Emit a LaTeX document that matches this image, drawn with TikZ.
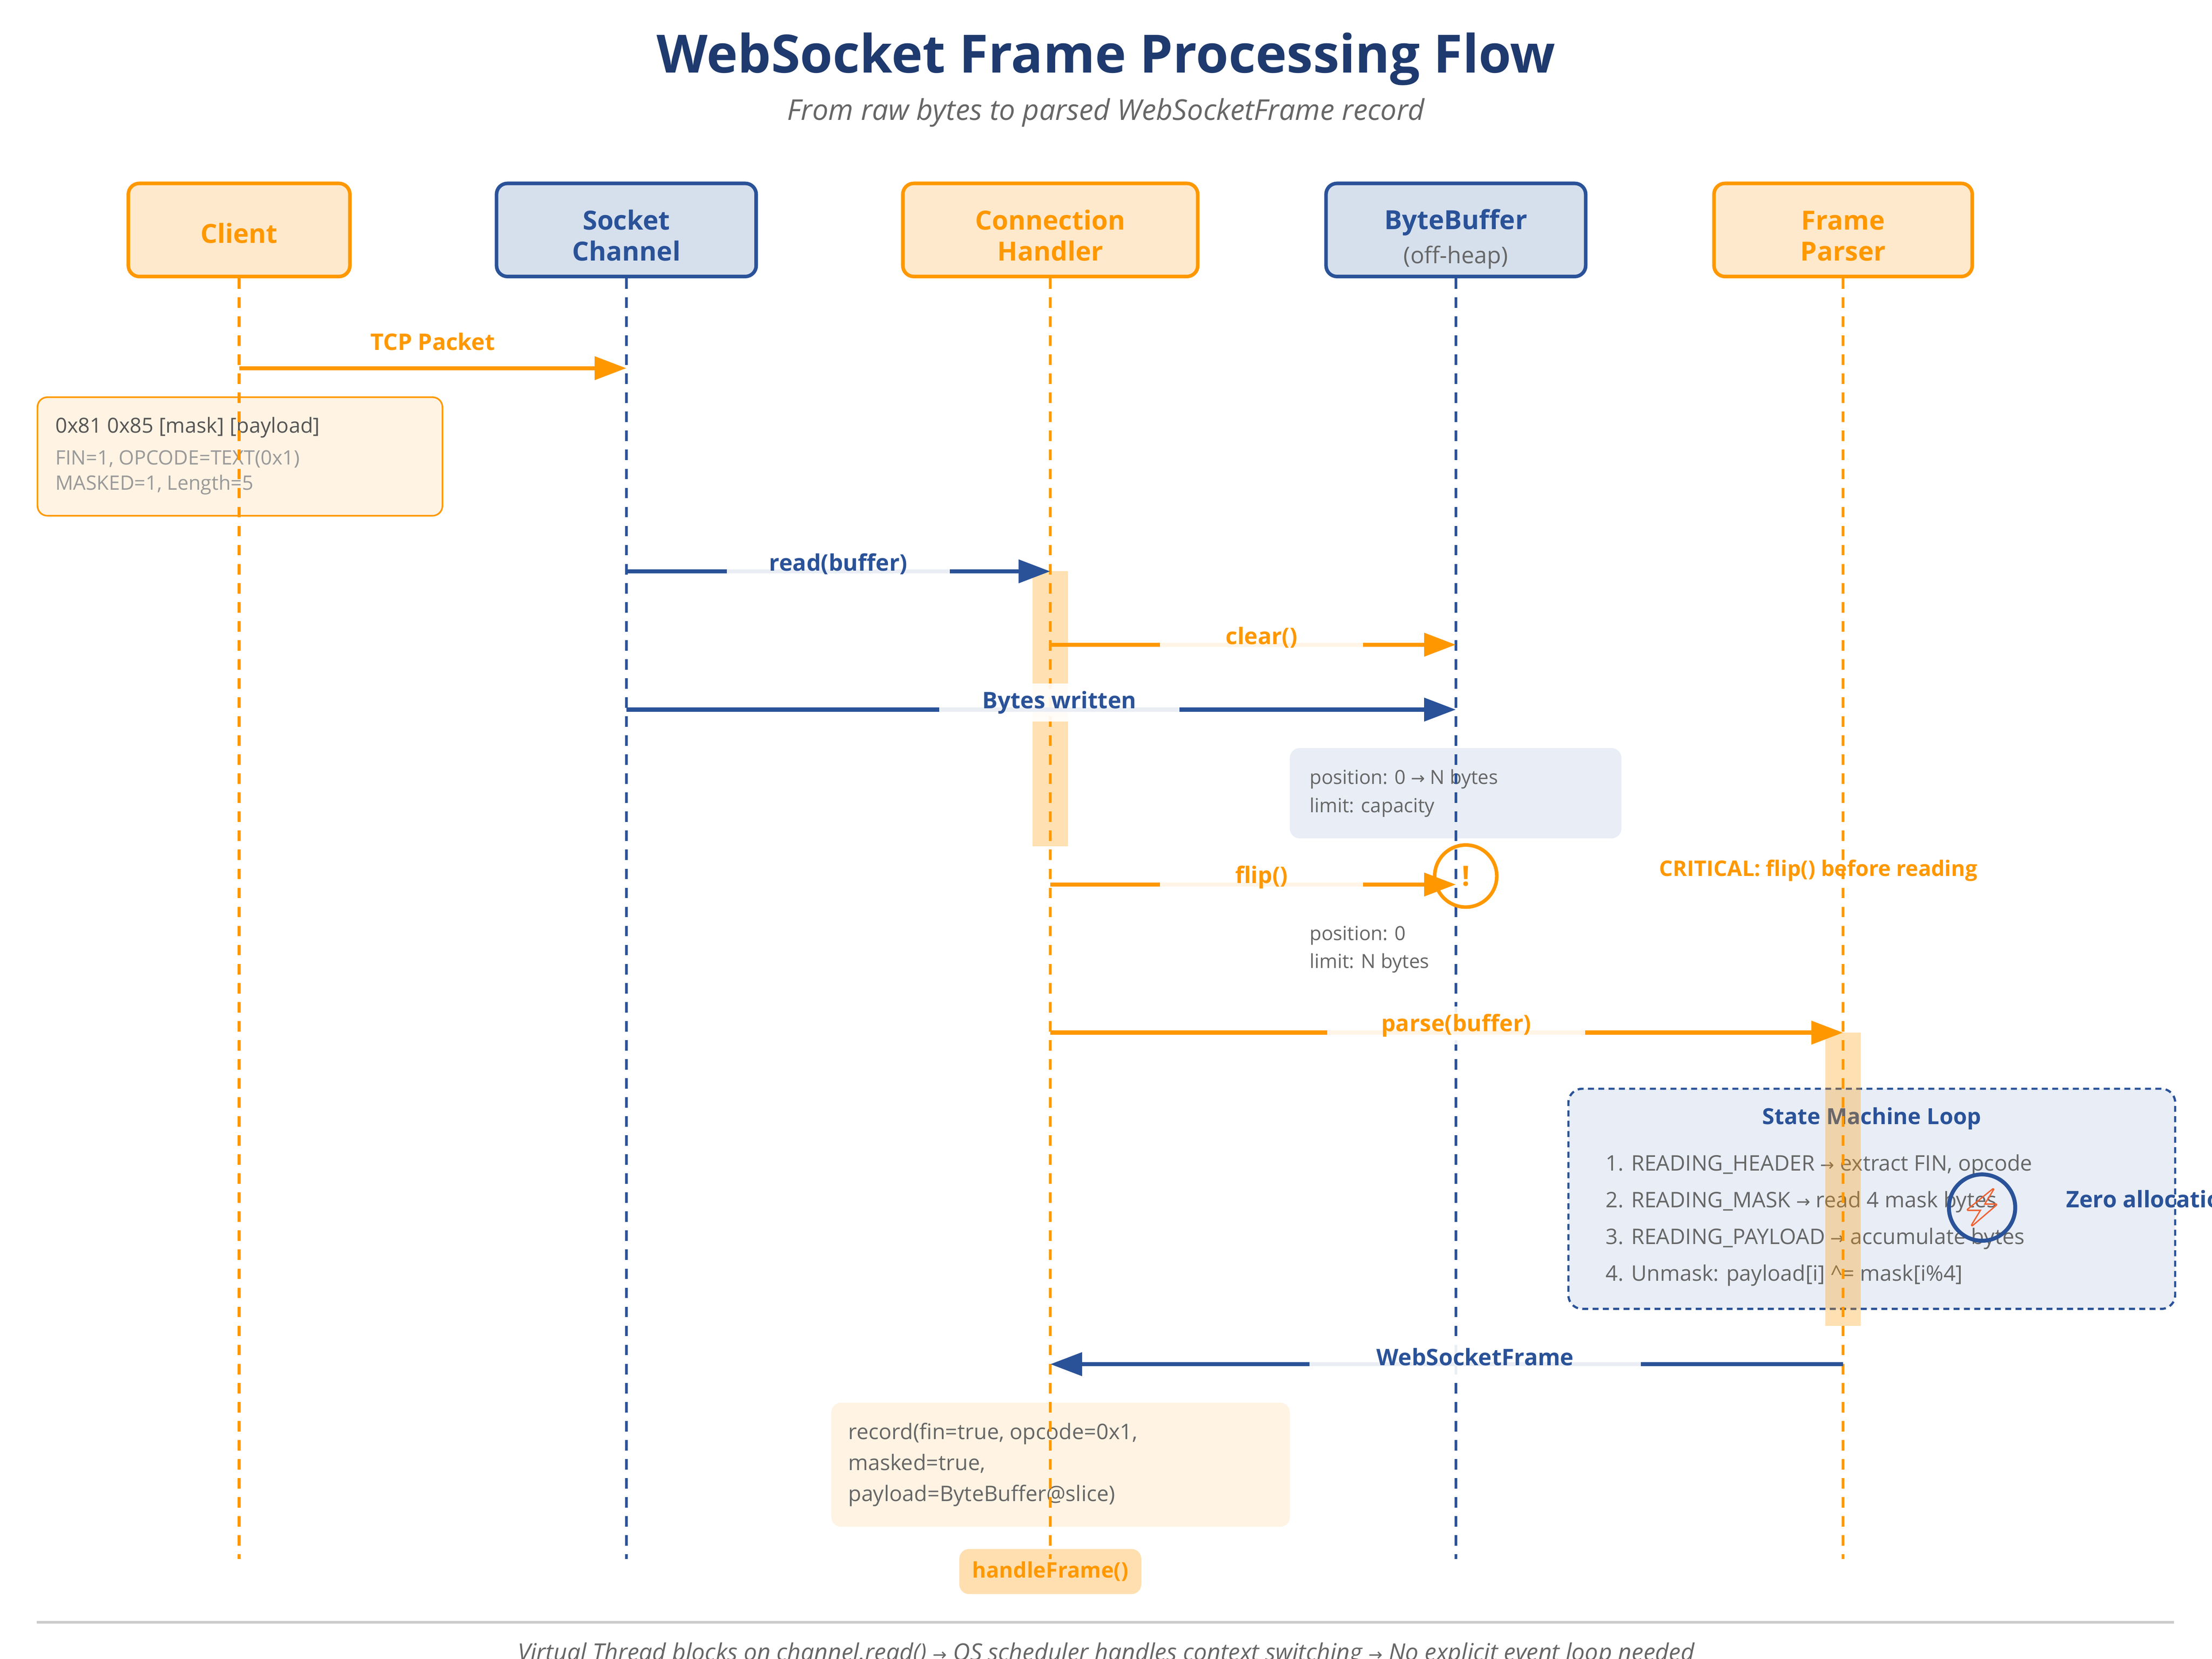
\documentclass[tikz,border=0pt]{standalone}
\usepackage{fontspec}
\setmainfont{Open Sans}
\newfontfamily\symfont{DejaVu Sans}
\newfontfamily\emojifont{Noto Emoji}
\usetikzlibrary{arrows.meta, calc, positioning}

\definecolor{wsorange}{HTML}{FF9800}
\definecolor{wsblue}{HTML}{2A5298}
\definecolor{wsnavy}{HTML}{1E3A6E}
\definecolor{orangefill}{HTML}{FFE9CC}
\definecolor{bluefill}{HTML}{D6E0ED}
\definecolor{noteorange}{HTML}{FFF3E3}
\definecolor{noteblue}{HTML}{E8EDF6}
\definecolor{textgray}{HTML}{666666}
\definecolor{darkgray}{HTML}{555555}
\definecolor{lightgray}{HTML}{999999}
\definecolor{badgefill}{HTML}{FFDFB0}
\definecolor{zapred}{HTML}{F0602F}
\definecolor{rulegray}{HTML}{CCCCCC}

\newcommand{\toarrow}{{\symfont\fontsize{8.5pt}{8.5pt}\selectfont →}}
\newcommand{\tstrut}[1]{\rule{0pt}{#1}}

\begin{document}
\begin{tikzpicture}[x=0.025cm, y=-0.025cm,
	part/.style={draw, line width=1.8pt, rounded corners=5.5pt, align=center,
		minimum height=1.65cm, font=\fontsize{13.3pt}{15.6pt}\selectfont\bfseries},
	partO/.style={part, draw=wsorange, fill=orangefill, text=wsorange},
	partB/.style={part, draw=wsblue, fill=bluefill, text=wsblue},
	life/.style={line width=1.4pt, dash pattern=on 5.3pt off 4.3pt},
	msg/.style={line width=2.1pt, -{Triangle[length=16pt, width=11.5pt]}},
	lbl/.style={fill=white, fill opacity=0.9, text opacity=1, inner sep=0pt,
		minimum height=0.675cm, yshift=3.6pt, font=\fontsize{11.5pt}{13pt}\selectfont\bfseries},
	note/.style={rounded corners=5pt, inner sep=0pt},
	txt/.style={inner sep=0pt, align=left, text=textgray, font=\fontsize{10.8pt}{15.6pt}\selectfont},
	bar/.style={fill=wsorange, fill opacity=0.3}]
	
	\useasboundingbox (0,0) rectangle (1568,1176);
	
	% title
	\node[font=\fontsize{26.6pt}{32pt}\selectfont\bfseries, text=wsnavy] (title) at (784,42) {WebSocket Frame Processing Flow};
	\node[font=\fontsize{14.45pt}{17pt}\selectfont\itshape, text=textgray] (subtitle) at (784,80) {From raw bytes to parsed WebSocketFrame record};
	
	% participants
	\node[partO, minimum width=3.925cm] (client) at (169.5,163) {Client\tstrut{13.5pt}};
	\node[partB, minimum width=4.6cm] (sock) at (444,163) {Socket\tstrut{15.8pt}\\Channel};
	\node[partO, minimum width=5.225cm] (conn) at (744.5,163) {Connection\tstrut{15.8pt}\\Handler};
	\node[partB, minimum width=4.6cm] (buf) at (1032,163)
		{ByteBuffer\tstrut{19.5pt}\\[1.5pt]{\mdseries\fontsize{11.6pt}{14pt}\selectfont\color{textgray}(off-heap)}};
	\node[partO, minimum width=4.575cm] (parser) at (1306.5,163) {Frame\tstrut{15.8pt}\\Parser};
	
	% notes
	\node[note, draw=wsorange, line width=0.8pt, fill=noteorange, anchor=north west,
		minimum width=7.175cm, minimum height=2.1cm] (framenote) at (26,281) {};
	\node[txt, anchor=west, text=darkgray, font=\fontsize{10.45pt}{13pt}\selectfont]
		at ($(framenote.north west)+(13,22)$) {0x81 0x85 [mask] [payload]};
	\node[txt, anchor=west, text=lightgray, font=\fontsize{10pt}{12.8pt}\selectfont]
		at ($(framenote.north west)+(13,54)$) {FIN=1, OPCODE=TEXT(0x1)\\MASKED=1, Length=5};
	
	\node[note, fill=noteblue, anchor=north west, minimum width=5.875cm, minimum height=1.6cm] (clearnote) at (914,530) {};
	\node[txt, anchor=west, font=\fontsize{9.8pt}{14.2pt}\selectfont] at ($(clearnote.west)+(14,0)$) {position: 0 \toarrow{} N bytes\\limit: capacity};
	
	\node[txt, anchor=west, font=\fontsize{9.8pt}{14.2pt}\selectfont] (flipinfo) at (928,673) {position: 0\\limit: N bytes};
	
	\node[note, draw=wsblue, line width=1.1pt, dash pattern=on 3pt off 2.2pt, fill=noteblue, rounded corners=7pt,
		anchor=north west, minimum width=10.75cm, minimum height=3.9cm] (loop) at (1111,771) {};
	\node[font=\fontsize{11.2pt}{13pt}\selectfont\bfseries, text=wsblue] (looptitle) at ($(loop.north)+(0,22)$) {State Machine Loop};
	\node[txt, anchor=west, font=\fontsize{10.8pt}{18.5pt}\selectfont] (steps) at ($(loop.north west)+(27,94)$)
		{1. READING\_HEADER \toarrow{} extract FIN, opcode\\
		 2. READING\_MASK \toarrow{} read 4 mask bytes\\
		 3. READING\_PAYLOAD \toarrow{} accumulate bytes\\
		 4. Unmask: payload[i] \textasciicircum= mask[i\%4]};
	
	\node[note, fill=noteorange, anchor=north west, minimum width=8.125cm, minimum height=2.2cm] (recnote) at (589,994) {};
	\node[txt, anchor=west, font=\fontsize{10.8pt}{15.6pt}\selectfont] at ($(recnote.west)+(12,0)$)
		{record(fin=true, opcode=0x1,\\masked=true,\\payload=ByteBuffer@slice)};
	
	\node[note, fill=badgefill, minimum width=3.225cm, minimum height=0.8cm, text=wsorange,
		font=\fontsize{10.8pt}{13pt}\selectfont\bfseries] (handle) at (conn |- 0,1114) {handleFrame()};
	
	% lifelines
	\foreach \p/\c in {client/wsorange, sock/wsblue, conn/wsorange, buf/wsblue, parser/wsorange}
		\draw[life, \c] (\p.south) -- (\p |- 0,1105);
	
	% activation bars
	\fill[bar] ($(conn |- 0,405)+(-12.5,0)$) rectangle ($(conn |- 0,600)+(12.5,0)$);
	\fill[bar] ($(parser |- 0,732)+(-12.5,0)$) rectangle ($(parser |- 0,940)+(12.5,0)$);
	
	% messages
	\path (client |- 0,261) coordinate (tcp-a)   (sock |- 0,261) coordinate (tcp-b)
		(sock |- 0,405) coordinate (read-a)     (conn |- 0,405) coordinate (read-b)
		(conn |- 0,457) coordinate (clear-a)    (buf |- 0,457) coordinate (clear-b)
		(sock |- 0,503) coordinate (bytes-a)    (buf |- 0,503) coordinate (bytes-b)
		(conn |- 0,627) coordinate (flip-a)     (buf |- 0,627) coordinate (flip-b)
		(conn |- 0,732) coordinate (parse-a)    (parser |- 0,732) coordinate (parse-b)
		(parser |- 0,967) coordinate (frame-a)  (conn |- 0,967) coordinate (frame-b);
	
	\draw[msg, wsorange] (tcp-a) -- node[lbl, text=wsorange, fill opacity=0, yshift=9.9pt] {TCP Packet} (tcp-b);
	\draw[msg, wsblue] (read-a) -- node[lbl, text=wsblue, minimum width=3.95cm] {read(buffer)} (read-b);
	\draw[msg, wsorange] (clear-a) -- node[lbl, pos=0.521, text=wsorange, minimum width=3.6cm] {clear()} (clear-b);
	\draw[msg, wsblue] (bytes-a) -- node[lbl, pos=0.522, text=wsblue, minimum width=4.25cm] {Bytes written} (bytes-b);
	\draw[msg, wsorange] (flip-a) -- node[lbl, pos=0.521, text=wsorange, minimum width=3.6cm] {flip()} (flip-b);
	\draw[msg, wsorange] (parse-a) -- node[lbl, pos=0.512, text=wsorange, minimum width=4.575cm] {parse(buffer)} (parse-b);
	\draw[msg, wsblue] (frame-a) -- node[lbl, pos=0.464, text=wsblue, minimum width=5.875cm] {WebSocketFrame} (frame-b);
	
	% markers
	\node[circle, draw=wsorange, line width=1.8pt, minimum size=1.1cm, inner sep=0pt, text=wsorange,
		font=\fontsize{14pt}{14pt}\selectfont\bfseries] (warn) at ($(flip-b)+(7,-6)$) {!};
	\node[font=\fontsize{10.8pt}{13pt}\selectfont\bfseries, text=wsorange] (critical) at (1289,617) {CRITICAL: flip() before reading};
	
	\node[circle, draw=wsblue, line width=2pt, minimum size=1.175cm, inner sep=0pt, text=zapred,
		font=\emojifont\fontsize{19pt}{19pt}\selectfont] (zap) at (1405,856) {⚡};
	\node[right=0.86cm of zap, yshift=4.3pt, inner sep=0pt, text=wsblue,
		font=\fontsize{11.5pt}{13pt}\selectfont\bfseries] (zerotxt) {Zero allocation};
	
	% footer
	\draw[rulegray, line width=1.4pt] (26,1150) -- (1541,1150);
	\node[anchor=base, text=textgray, font=\fontsize{11.9pt}{14pt}\selectfont\itshape] (footer) at (784,1177)
		{Virtual Thread blocks on channel.read() \toarrow{} OS scheduler handles context switching \toarrow{} No explicit event loop needed};
	
\end{tikzpicture}
\end{document}
